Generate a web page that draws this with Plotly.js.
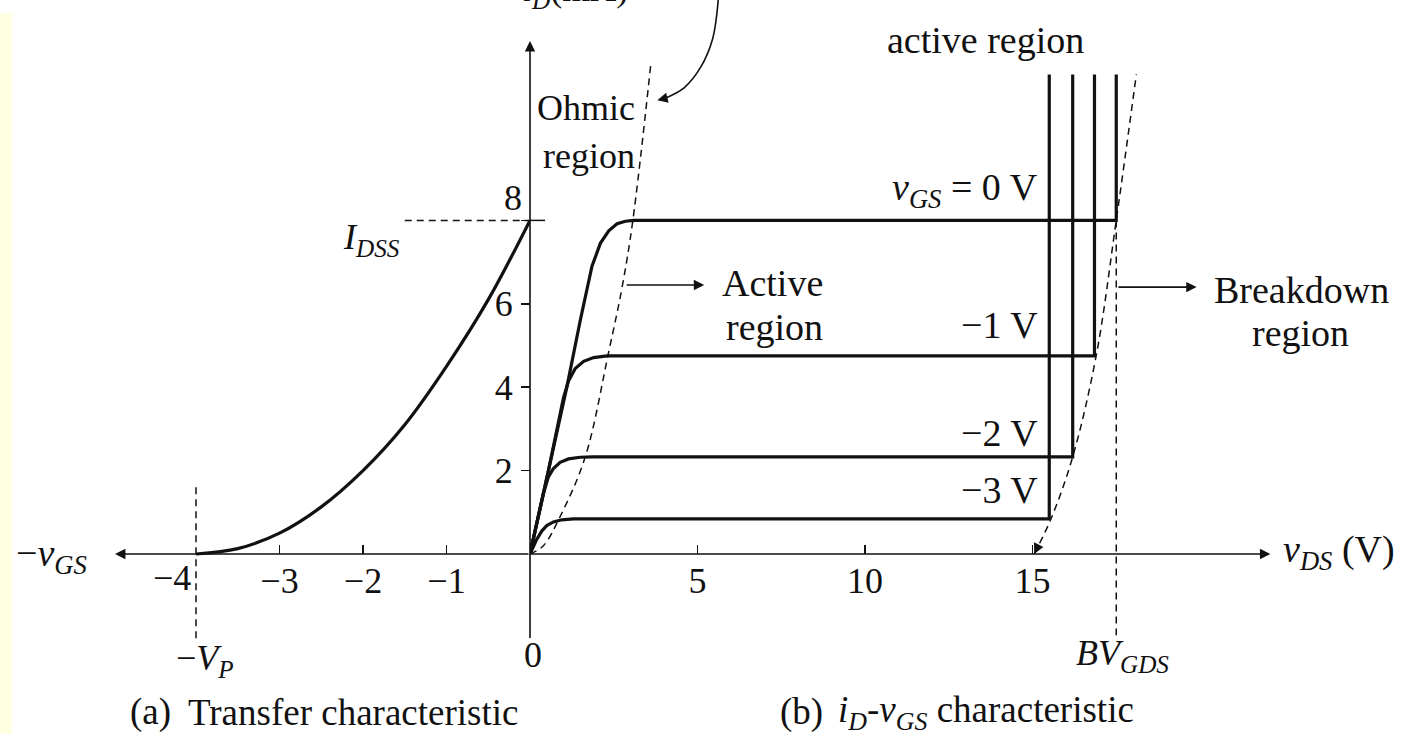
<!DOCTYPE html>
<html><head><meta charset="utf-8">
<script src="https://cdn.plot.ly/plotly-3.0.1.min.js"></script>
<style>html,body{margin:0;padding:0;background:#fff;}#chart{width:1416px;height:734px;}</style>
</head><body><div id="chart"></div>
<script>
// ---- data ----
// (a) transfer characteristic: vGS (V) -> iD (mA)
const transferVGS = [-4, -3.5, -3, -2.5, -2, -1.5, -1, -0.5, 0];
const transferID  = [0, 0.13, 0.5, 1.13, 2.0, 3.1, 4.5, 6.1, 8.0];

// (b) output characteristics: vDS (V) -> iD (mA), one per vGS
const vgsLabels = ['0 V', '−1 V', '−2 V', '−3 V'];
const vds0 = [0, 0.55, 1.1, 1.5, 1.85, 2.1, 2.35, 2.6, 2.85, 3.1, 17.5, 17.5];
const id0  = [0, 2.0, 4.0, 5.6, 6.9, 7.45, 7.75, 7.92, 7.98, 8.0, 8.0, 11.5];
const vds1 = [0, 0.55, 1.0, 1.15, 1.35, 1.6, 1.9, 2.3, 16.85, 16.85];
const id1  = [0, 2.0, 3.75, 4.15, 4.45, 4.62, 4.71, 4.75, 4.75, 11.5];
const vds2 = [0, 0.4, 0.55, 0.7, 0.9, 1.15, 1.5, 1.85, 16.2, 16.2];
const id2  = [0, 1.45, 1.85, 2.05, 2.2, 2.28, 2.32, 2.33, 2.33, 11.5];
const vds3 = [0, 0.2, 0.35, 0.5, 0.7, 0.95, 1.3, 1.6, 15.5, 15.5];
const id3  = [0, 0.35, 0.55, 0.68, 0.77, 0.82, 0.84, 0.84, 0.84, 11.5];

// dashed boundaries
const ohmicVDS = [0, 0.4, 0.9, 1.65, 2.35, 2.75, 3.07, 3.6];
const ohmicID  = [0, 0.2, 0.9, 2.33, 4.85, 6.4, 8.0, 11.7];
const breakVDS = [15.05, 15.55, 16.2, 16.9, 17.5, 18.1];
const breakID  = [0, 0.84, 2.33, 4.75, 8.0, 11.5];

const IDSS = 8, VP = 4, BVGDS = 17.5;
const leftTicks = [-3, -2, -1];
const leftTickText = ['−3', '−2', '−1'];
const rightTicks = [5, 10, 15];
const rightTickText = ['5', '10', '15'];
const yTicks = [2, 4, 6, 8];
const yTickText = ['2', '4', '6', ''];

// ---- geometry ----
const W = 1416, H = 734;
const X0 = 530, Y0 = 554;          // origin in pixels
const PXL = 83.5, PXR = 33.5, PXY = 41.7;
const px = x => x / W;
const py = y => 1 - y / H;
const FONT = 'Liberation Serif, Times New Roman, serif';
const INK = '#111';

const curveLine = {color: INK, width: 3.2};
const dashLine = {color: INK, width: 1.5, dash: '7px,5px'};

const traces = [
  {x: transferVGS, y: transferID, xaxis: 'x', yaxis: 'y', mode: 'lines', line: Object.assign({shape: 'spline'}, curveLine)},
  {x: vds0, y: id0, xaxis: 'x2', yaxis: 'y', mode: 'lines', line: curveLine, name: vgsLabels[0]},
  {x: vds1, y: id1, xaxis: 'x2', yaxis: 'y', mode: 'lines', line: curveLine, name: vgsLabels[1]},
  {x: vds2, y: id2, xaxis: 'x2', yaxis: 'y', mode: 'lines', line: curveLine, name: vgsLabels[2]},
  {x: vds3, y: id3, xaxis: 'x2', yaxis: 'y', mode: 'lines', line: curveLine, name: vgsLabels[3]},
  {x: ohmicVDS, y: ohmicID, xaxis: 'x2', yaxis: 'y', mode: 'lines', line: Object.assign({shape: 'spline'}, dashLine)},
  {x: breakVDS, y: breakID, xaxis: 'x2', yaxis: 'y', mode: 'lines', line: Object.assign({shape: 'spline'}, dashLine)},
  // curved pointer towards the ohmic boundary
  {x: [5.62, 5.45, 5.1, 4.6, 4.0], y: [13.3, 12.35, 11.68, 11.18, 10.92], xaxis: 'x2', yaxis: 'y', mode: 'lines',
   line: {color: INK, width: 1.6, shape: 'spline'}}
];

function txt(text, x, y, xanchor, size, extra) {
  return Object.assign({text: text, x: px(x), y: py(y), xref: 'paper', yref: 'paper',
    xanchor: xanchor || 'center', yanchor: 'middle', showarrow: false,
    font: {family: FONT, size: size || 36, color: INK}}, extra || {});
}
function arrow(xref, x, y, ax, ay) {
  return {xref: xref, yref: 'y', axref: xref, ayref: 'y', x: x, y: y, ax: ax, ay: ay, text: '',
    showarrow: true, arrowhead: 2, arrowsize: 1.3, arrowwidth: 1.6, arrowcolor: INK, standoff: 0};
}

const annotations = [
  // axes
  arrow('x2', 0, 12.3, 0, -2.05),
  arrow('x', -4.97, 0, 0, 0),
  arrow('x2', 22.1, 0, 0, 0),
  // region arrows
  arrow('x2', 5.2, 6.45, 2.84, 6.45),
  arrow('x2', 19.9, 6.4, 17.52, 6.4),
  // pointer arrow head
  arrow('x2', 3.8, 10.88, 4.0, 10.92),
  // breakdown boundary arrow head
  arrow('x2', 15.05, 0, 15.2, 0.25),
  // texts
  txt('<i>i</i><sub><i>D</i></sub>(mA)', 575, 16, 'center', 36, {yanchor: 'bottom'}),
  txt('active region', 985, 40, 'center', 38),
  txt('Ohmic', 637, 108, 'right', 36),
  txt('region', 637, 156, 'right', 36),
  txt('<i>I</i><sub><i>DSS</i></sub>', 402, 240, 'right', 36),
  txt('8', 513, 198, 'center', 36),
  txt('<i>v</i><sub><i>GS</i></sub> = 0 V', 1040, 190, 'right', 38),
  txt('−1 V', 1040, 325, 'right', 38),
  txt('−2 V', 1040, 433, 'right', 38),
  txt('−3 V', 1040, 490, 'right', 38),
  txt('Active', 720, 283, 'left', 38),
  txt('region', 724, 327, 'left', 38),
  txt('Breakdown', 1212, 290, 'left', 38),
  txt('region', 1250, 333, 'left', 38),
  txt('−<i>v</i><sub><i>GS</i></sub>', 14, 556, 'left', 38),
  txt('<i>v</i><sub><i>DS</i></sub> (V)', 1281, 552, 'left', 38),
  txt('−4', 172, 578, 'center', 36),
  txt('0', 533, 655, 'center', 36),
  txt('−<i>V</i><sub><i>P</i></sub>', 205, 660, 'center', 36),
  txt('<i>BV</i><sub><i>GDS</i></sub>', 1122, 655, 'center', 36),
  txt('(a)', 128, 712, 'left', 37),
  txt('Transfer characteristic', 186, 712, 'left', 37),
  txt('(b)', 778, 712, 'left', 37),
  txt('<i>i</i><sub><i>D</i></sub>-<i>v</i><sub><i>GS</i></sub> characteristic', 836, 712, 'left', 37)
];

const shapes = [
  {type: 'rect', xref: 'paper', yref: 'paper', x0: 0, x1: px(12), y0: 0, y1: py(13), fillcolor: '#FFFFE2', line: {width: 0}, layer: 'below'},
  // I_DSS dashed guide
  {type: 'line', xref: 'x', yref: 'y', x0: -1.5, x1: 0, y0: IDSS, y1: IDSS, line: dashLine},
  {type: 'line', xref: 'x2', yref: 'y', x0: 0, x1: 0.45, y0: IDSS, y1: IDSS, line: {color: INK, width: 1.5}},
  // -VP guide
  {type: 'line', xref: 'x', yref: 'y', x0: -VP, x1: -VP, y0: 1.6, y1: -2.1, line: dashLine},
  // BVGDS guide
  {type: 'line', xref: 'x2', yref: 'y', x0: BVGDS, x1: BVGDS, y0: IDSS, y1: -1.95, line: dashLine}
];

const axBase = {showgrid: false, zeroline: false, showline: false, anchor: 'free', position: 1 - Y0 / H,
  ticks: 'inside', ticklen: 9, tickwidth: 1.5, tickcolor: INK, ticklabelstandoff: 2,
  tickfont: {family: FONT, size: 36, color: INK}, fixedrange: true};

const layout = {
  width: W, height: H, margin: {l: 0, r: 0, t: 0, b: 0},
  paper_bgcolor: '#fff', plot_bgcolor: '#fff', showlegend: false,
  xaxis: Object.assign({}, axBase, {domain: [0, X0 / W], range: [-X0 / PXL, 0], tickvals: leftTicks, ticktext: leftTickText}),
  xaxis2: Object.assign({}, axBase, {domain: [X0 / W, 1], range: [0, (W - X0) / PXR], tickvals: rightTicks, ticktext: rightTickText}),
  yaxis: {domain: [0, 1], range: [-(H - Y0) / PXY, Y0 / PXY], showgrid: false, zeroline: false, showline: false,
    anchor: 'free', position: X0 / W, ticks: 'outside', ticklen: 9, tickwidth: 1.5, tickcolor: INK,
    tickvals: yTicks, ticktext: yTickText, ticklabelstandoff: 1,
    tickfont: {family: FONT, size: 36, color: INK}, fixedrange: true},
  annotations: annotations,
  shapes: shapes
};

Plotly.newPlot('chart', traces, layout, {staticPlot: true, displayModeBar: false});
</script></body></html>
